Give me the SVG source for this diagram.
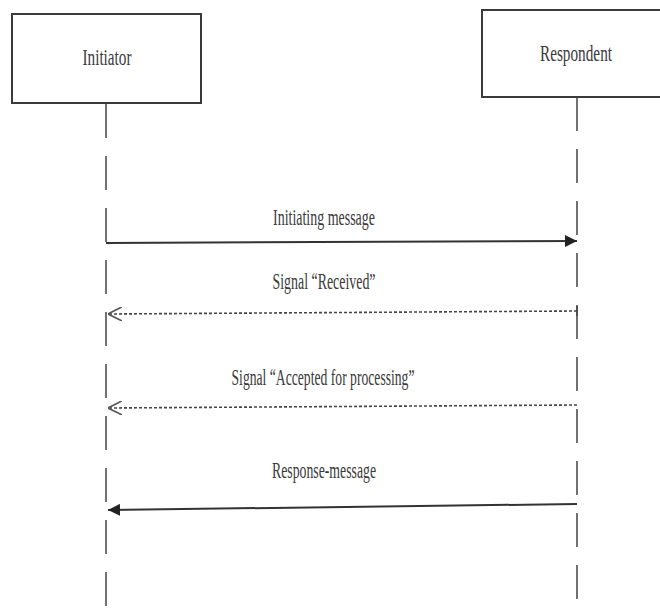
<svg xmlns="http://www.w3.org/2000/svg" width="660" height="609" viewBox="0 0 660 609">
<style>
.box{fill:#fff;stroke:#3a3a3a;stroke-width:2}
.life{stroke:#444;stroke-width:1.5;stroke-dasharray:34 18;fill:none}
.t{font-family:"Liberation Serif","Times New Roman",serif;font-size:23px;fill:#3a3a3a;text-anchor:middle}
.solid{stroke:#333;stroke-width:2;fill:none}
.dot{stroke:#444;stroke-width:1.6;stroke-dasharray:3 2;fill:none}
</style>
<defs>
<marker id="fill" markerWidth="12" markerHeight="12" refX="10" refY="5" orient="auto" markerUnits="userSpaceOnUse" viewBox="0 0 10 10">
<path d="M0,0 L10,5 L0,10 z" fill="#222"/>
</marker>
<marker id="open" markerWidth="14" markerHeight="14" refX="10" refY="5" orient="auto" markerUnits="userSpaceOnUse" viewBox="0 0 10 10">
<path d="M0,0 L10,5 L0,10" fill="none" stroke="#555" stroke-width="1.2"/>
</marker>
</defs>
<g id="initiator">
<rect class="box" x="12" y="14" width="189" height="89"/>
<text class="t" x="107" y="65" textLength="49" lengthAdjust="spacingAndGlyphs">Initiator</text>
<line class="life" x1="106" y1="104" x2="106" y2="609"/>
</g>
<g id="respondent">
<rect class="box" x="482" y="10" width="190" height="87"/>
<text class="t" x="576" y="61" textLength="72" lengthAdjust="spacingAndGlyphs">Respondent</text>
<line class="life" x1="577" y1="97" x2="577" y2="609"/>
</g>
<g id="connectors">
<line class="solid" x1="106" y1="243" x2="577" y2="241" marker-end="url(#fill)"/>
<text class="t" x="324" y="225" textLength="102" lengthAdjust="spacingAndGlyphs">Initiating message</text>
<line class="dot" x1="577" y1="311" x2="108" y2="314" marker-end="url(#open)"/>
<line stroke="#444" stroke-width="1.5" x1="577" y1="306" x2="577" y2="316"/>
<text class="t" x="324" y="289" textLength="103" lengthAdjust="spacingAndGlyphs">Signal “Received”</text>
<line class="dot" x1="577" y1="405" x2="108" y2="408" marker-end="url(#open)"/>
<text class="t" x="323" y="385" textLength="183" lengthAdjust="spacingAndGlyphs">Signal “Accepted for processing”</text>
<line class="solid" x1="577" y1="504" x2="108" y2="510" marker-end="url(#fill)"/>
<text class="t" x="324" y="478" textLength="104" lengthAdjust="spacingAndGlyphs">Response-message</text>
</g>
</svg>
